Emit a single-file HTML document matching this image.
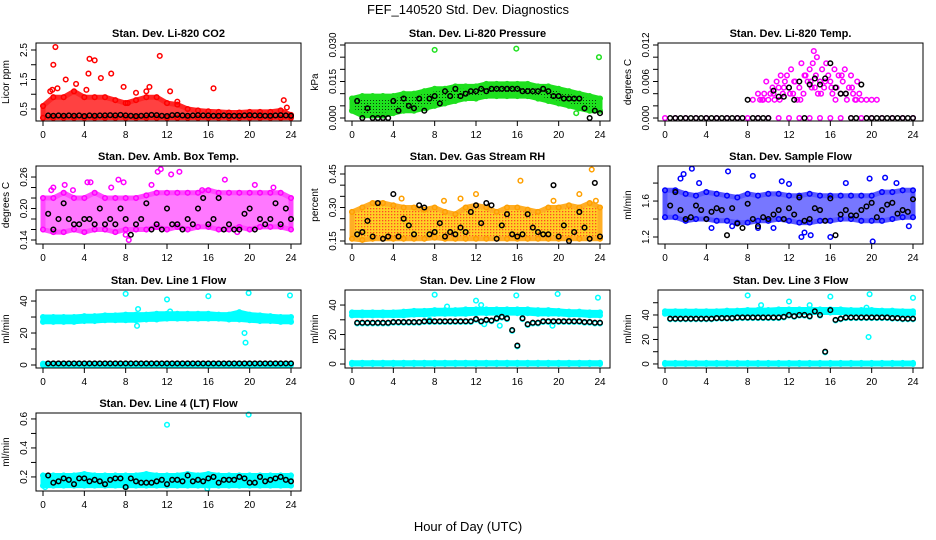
<!DOCTYPE html>
<html><head><meta charset="utf-8"><style>
body{margin:0;background:#fff;width:936px;height:540px;overflow:hidden}
svg{display:block}
text{font-family:"Liberation Sans",sans-serif;fill:#000}
</style></head><body>
<svg id="c" width="936" height="540" xmlns="http://www.w3.org/2000/svg">
<defs>
<pattern id="pg" width="3" height="3" patternUnits="userSpaceOnUse"><rect width="3" height="3" fill="#1ee01e"/><rect x="1" y="1" width="1" height="1" fill="#0a3a0a"/></pattern>
<pattern id="po" width="3" height="3" patternUnits="userSpaceOnUse"><rect width="3" height="3" fill="#ffc800"/><rect x="1" y="1" width="1.3" height="1.3" fill="#ff2a00"/></pattern>
</defs>
<text x="468" y="14" text-anchor="middle" font-size="13">FEF_140520  Std. Dev. Diagnostics</text>
<text x="468" y="531" text-anchor="middle" font-size="13">Hour of Day (UTC)</text>
</svg>
<script>
const hours25=[0,1,2,3,4,5,6,7,8,9,10,11,12,13,14,15,16,17,18,19,20,21,22,23,24];
const blackHours=[0.5,1,1.5,2,2.5,3,3.5,4,4.5,5,5.5,6,6.5,7,7.5,8,8.5,9,9.5,10,10.5,11,11.5,12,12.5,13,13.5,14,14.5,15,15.5,16,16.5,17,17.5,18,18.5,19,19.5,20,20.5,21,21.5,22,22.5,23,23.5,24];
const xTicks=[0,4,8,12,16,20,24];
// P1 CO2
const co2Lo=[0.2,0.2,0.2,0.2,0.2,0.2,0.2,0.2,0.2,0.2,0.2,0.2,0.2,0.2,0.2,0.2,0.2,0.2,0.2,0.2,0.2,0.2,0.2,0.2,0.2];
const co2Hi=[0.6,0.9,0.9,1.1,0.9,0.9,0.9,0.8,0.7,0.8,0.9,0.9,0.7,0.65,0.5,0.45,0.42,0.4,0.38,0.38,0.4,0.4,0.4,0.45,0.3];
const co2OutH=[1.2,1.0,4.5,5.0,11.3,4.4,6.6,2.2,5.6,3.2,16.5,23.3,0.7,10.3,12.3,7.8,9.0,4.2,0.9,1.4,8.2,10.0,13.0,23.6];
const co2OutV=[2.6,2.0,2.2,2.15,2.3,1.7,1.7,1.5,1.55,1.35,1.2,0.8,1.1,1.25,1.1,1.25,1.05,1.15,1.15,1.2,0.7,1.1,0.75,0.55];
const co2Black=[0.28,0.27,0.28,0.27,0.28,0.27,0.28,0.26,0.28,0.27,0.28,0.28,0.29,0.28,0.3,0.28,0.27,0.26,0.27,0.28,0.3,0.29,0.27,0.26,0.29,0.3,0.28,0.27,0.28,0.29,0.28,0.28,0.27,0.27,0.28,0.27,0.27,0.27,0.28,0.29,0.28,0.28,0.27,0.27,0.28,0.29,0.28,0.27];
// P2 pressure
const prLo=[0.003,0.001,0.001,0.001,0.002,0.003,0.003,0.004,0.005,0.006,0.007,0.008,0.008,0.009,0.009,0.009,0.009,0.009,0.008,0.007,0.006,0.005,0.004,0.003,0.003];
const prHi=[0.008,0.009,0.009,0.009,0.009,0.01,0.01,0.011,0.012,0.012,0.013,0.013,0.013,0.014,0.014,0.014,0.014,0.014,0.013,0.013,0.012,0.011,0.01,0.009,0.008];
const prOutH=[8,15.9,23.9,21.7,7.2];
const prOutV=[0.028,0.0285,0.025,0.002,0.004];
const prBlack=[0.007,0.0,0.004,0.0,0.0,0.0,0.0,0.007,0.003,0.008,0.005,0.004,0.008,0.003,0.008,0.009,0.006,0.011,0.009,0.012,0.009,0.01,0.011,0.011,0.012,0.011,0.012,0.012,0.012,0.012,0.012,0.012,0.011,0.011,0.011,0.011,0.012,0.011,0.009,0.009,0.008,0.008,0.008,0.008,0.004,0.0,0.003,0.002];
// P3 temperature
const tmpH=[9,9.2,9.4,9.6,9.8,10,10.2,10.4,10.6,10.8,11,11.2,11.4,11.6,11.8,12,12.2,12.4,12.6,12.8,13,13.2,13.4,13.6,13.8,14,14.2,14.4,14.6,14.8,15,15.2,15.4,15.6,15.8,16,16.2,16.4,16.6,16.8,17,17.2,17.4,17.6,17.8,18,18.2,18.4,18.6,18.8,19,10.5,11.5,12.5,13.5,14.5,15.5,16.5,17.5,12.1,13.1,14.1,15.1,16.1,17.1,11.1,14.3,14.7,18.1,18.5,19.5,20,20.5,8.5,9.5];
const tmpV=[0.004,0.003,0.003,0.004,0.006,0.003,0.004,0.005,0.003,0.006,0.005,0.007,0.004,0.006,0.007,0.005,0.008,0.004,0.006,0.003,0.005,0.009,0.004,0.007,0.006,0.008,0.005,0.011,0.007,0.004,0.006,0.008,0.005,0.009,0.007,0.006,0.004,0.008,0.005,0.007,0.004,0.006,0.008,0.003,0.005,0.007,0.004,0.003,0.006,0.004,0.003,0.004,0.005,0.006,0.007,0.005,0.006,0.003,0.004,0.004,0.003,0.006,0.004,0.005,0.007,0.003,0.009,0.01,0.005,0.003,0.003,0.003,0.003,0.003,0.003];
const tmpBlack=[0,0,0,0,0,0,0,0,0,0,0,0,0,0,0,0.003,0,0,0,0,0.0045,0.0035,0.0035,0.005,0.003,0.006,0.0,0.0055,0.0065,0.0055,0.0065,0.009,0.005,0.004,0.004,0,0,0.0055,0,0,0,0,0,0,0,0,0,0];
// P4 amb box
const ambLo=[0.16,0.155,0.155,0.16,0.155,0.16,0.16,0.155,0.16,0.16,0.16,0.165,0.16,0.165,0.16,0.165,0.165,0.16,0.16,0.165,0.16,0.165,0.165,0.165,0.16];
const ambHi=[0.22,0.22,0.23,0.22,0.22,0.23,0.22,0.22,0.22,0.22,0.225,0.23,0.23,0.23,0.23,0.23,0.235,0.23,0.23,0.23,0.23,0.23,0.23,0.23,0.22];
const ambOutH=[0.8,2.1,4.3,4.6,7.8,7.3,11.1,11.4,12.4,13.2,17.6,20.5,22.3,8.3,10.5,2.9,6.6,15.4,18.8,8.0,1.0];
const ambOutV=[0.235,0.245,0.25,0.25,0.25,0.255,0.27,0.275,0.265,0.27,0.255,0.245,0.24,0.14,0.245,0.235,0.24,0.235,0.155,0.15,0.24];
const ambBlack=[0.19,0.16,0.18,0.21,0.18,0.17,0.17,0.18,0.18,0.17,0.2,0.17,0.18,0.17,0.2,0.18,0.15,0.17,0.18,0.21,0.16,0.17,0.16,0.2,0.17,0.17,0.16,0.18,0.17,0.2,0.22,0.17,0.18,0.22,0.16,0.17,0.16,0.16,0.19,0.2,0.16,0.18,0.17,0.18,0.21,0.17,0.2,0.18];
// P5 gas stream RH
const rhLo=[0.16,0.155,0.16,0.16,0.16,0.16,0.16,0.16,0.165,0.16,0.16,0.16,0.16,0.16,0.16,0.16,0.16,0.16,0.16,0.16,0.16,0.16,0.16,0.16,0.16];
const rhHi=[0.28,0.3,0.32,0.32,0.31,0.3,0.3,0.29,0.3,0.28,0.27,0.3,0.31,0.3,0.28,0.3,0.3,0.29,0.28,0.3,0.3,0.31,0.3,0.32,0.3];
const rhOutH=[16.3,23.2,23.6,12.0,10.5,22.0,19.5,4.8,8.9];
const rhOutV=[0.42,0.47,0.33,0.36,0.34,0.36,0.33,0.34,0.33];
const rhBlack=[0.18,0.19,0.24,0.17,0.32,0.16,0.17,0.36,0.17,0.25,0.22,0.18,0.31,0.3,0.18,0.19,0.23,0.17,0.19,0.18,0.21,0.19,0.28,0.31,0.23,0.32,0.31,0.16,0.22,0.27,0.18,0.17,0.18,0.27,0.21,0.19,0.18,0.18,0.4,0.17,0.22,0.15,0.19,0.28,0.21,0.16,0.41,0.17];
// P6 sample flow
const sfLo=[1.42,1.42,1.38,1.4,1.4,1.38,1.38,1.36,1.36,1.38,1.38,1.4,1.38,1.36,1.36,1.38,1.38,1.4,1.4,1.38,1.38,1.38,1.4,1.42,1.42];
const sfHi=[1.72,1.72,1.68,1.66,1.7,1.68,1.66,1.64,1.68,1.66,1.68,1.68,1.66,1.66,1.68,1.66,1.66,1.66,1.66,1.66,1.66,1.7,1.7,1.72,1.72];
const sfOutH=[1.8,2.6,6.1,8.5,11.3,12.0,13.5,17.5,19.8,21.3,22.4,3.3,13.2,14.1,16.0,20.1,23.6,6.5,10.5,1.5,9.0,4.5];
const sfOutV=[1.9,1.96,1.93,1.88,1.82,1.79,1.25,1.8,1.85,1.86,1.8,1.8,1.2,1.22,1.2,1.15,1.32,1.32,1.3,1.85,1.3,1.3];
const sfBlack=[1.55,1.7,1.5,1.4,1.42,1.55,1.5,1.4,1.48,1.52,1.5,1.22,1.52,1.35,1.3,1.57,1.4,1.32,1.42,1.4,1.45,1.5,1.4,1.52,1.45,1.64,1.38,1.4,1.52,1.5,1.38,1.63,1.22,1.45,1.5,1.44,1.44,1.5,1.54,1.58,1.42,1.5,1.56,1.58,1.46,1.5,1.48,1.62];
// P7-P10 line flows
const l1Lo=[27,27,27,27,27.5,27.5,28,28,28,28,28.5,28.5,29,29,29,29,29,29,28.5,28.5,28,27.5,27.5,27,27];
const l1Hi=[30,30,30,30,30.5,30.5,31,31,31.5,31.5,31.5,32,32,32,32,32,32,31.5,31.5,33,31.5,31,30.5,30,30];
const l1OutH=[8,9.2,9.1,12,12.3,16,19.5,19.6,19.9,23.9];
const l1OutV=[44.5,35,24.5,41,33.5,43,20,14,45,43.5];
const l1Black=[1,1,1,1,1,1,1,1,1,1,1,1,1,1,1,1,1,1,1,1,1,1,1,1,1,1,1,1,1,1,1,1,1,1,1,1,1,1,1,1,1,1,1,1,1,1,1,1];
const l2Lo=[33,33,33,33,33,33,33.5,33.5,34,34,34,34,34.5,34.5,34.5,34.5,34.5,34.5,34,34,34,33.5,33.5,33,33];
const l2Hi=[35,35,35,35,35,35.5,36,36,36.5,36.5,36.5,37,37,37,37,37,37,37,36.5,36.5,36,35.5,35.5,35,35];
const l2OutH=[8,9.2,12,12.5,15.9,19.9,23.8,14.3,19.4,7.5,12.8];
const l2OutV=[47,39,43,40,46.5,47.5,45,26,26,30,27];
const l2Black=[28,28,28,28,28,28,28,28.5,28.5,28.5,28.5,28.5,28.5,29,29,29,29,29,29,29,29,29,29,30.5,29,30,29.5,31,32,31,23,12.5,31,27,28,28,29,29,29,29,29,29,29,29,28.5,28.5,28,28];
const l3Lo=[41,41,41,41,41,41,41,41.5,41.5,41.5,42,42,42,42,42,42,42,42,42,42,42,41.5,41.5,41,41];
const l3Hi=[43,43,43,43,43,43,43.5,43.5,44,44,44,44.5,44.5,44.5,44.5,44.5,44.5,44.5,44,44,44,43.5,43.5,43,43];
const l3OutH=[8,9.3,12,14,16,19.5,19.8,24,19.7];
const l3OutV=[56,48,51,48,55,46,57,54,22];
const l3Black=[37,37,37,37,37,37,37,37,37,37.5,37.5,37.5,37.5,38,38,38,38,38,38,38,38,38,38.5,40,39,40,40,39,43,40,10,44,36,37,38,38,38,38,38,38,38,38,38,37.5,37.5,37,37,37];
const l4Lo=[0.14,0.14,0.14,0.14,0.14,0.14,0.14,0.14,0.14,0.14,0.14,0.14,0.14,0.14,0.14,0.14,0.14,0.14,0.14,0.14,0.14,0.14,0.14,0.14,0.14];
const l4Hi=[0.21,0.21,0.21,0.21,0.22,0.21,0.21,0.21,0.21,0.21,0.22,0.21,0.21,0.21,0.22,0.21,0.22,0.21,0.21,0.21,0.21,0.21,0.21,0.21,0.21];
const l4OutH=[12,19.9,0.2,15.9,8];
const l4OutV=[0.56,0.63,0.13,0.12,0.13];
const l4Black=[0.21,0.16,0.17,0.19,0.18,0.15,0.19,0.19,0.17,0.18,0.17,0.15,0.18,0.19,0.19,0.13,0.19,0.17,0.16,0.16,0.16,0.17,0.18,0.15,0.18,0.18,0.17,0.21,0.17,0.18,0.17,0.19,0.2,0.16,0.18,0.18,0.18,0.2,0.19,0.16,0.16,0.2,0.17,0.18,0.19,0.2,0.18,0.17];

const NS='http://www.w3.org/2000/svg';
const svg=document.getElementById('c');
function mk(tag,attrs,parent){const e=document.createElementNS(NS,tag);for(const k in attrs)e.setAttribute(k,attrs[k]);(parent||svg).appendChild(e);return e;}
const colsL=[36,345,658], rowsT=[43,166,290,413], W=265, H=78;

function panel(o){
  const L=colsL[o.col], T=rowsT[o.row];
  const g=mk('g',{});
  
  
  const xs=h=>L+7+h/24*248;
  const ys=v=>T+H-(v-o.dom[0])/(o.dom[1]-o.dom[0])*H;
  const cg=mk('g',{},g);
  (o.bands||[]).forEach(b=>{
    let d='';
    hours25.forEach((h,i)=>{d+=(i?'L':'M')+xs(h).toFixed(1)+' '+ys(b.hi[i]).toFixed(1);});
    for(let i=hours25.length-1;i>=0;i--)d+='L'+xs(hours25[i]).toFixed(1)+' '+ys(b.lo[i]).toFixed(1);
    const p=mk('path',{d:d+'Z',fill:b.fill,stroke:b.stroke,'stroke-width':5,'stroke-linejoin':'round',opacity:b.op||1},cg);
    
    
    hours25.forEach((h,i)=>{
      [b.lo[i],b.hi[i]].forEach(v=>{
        const c=mk('circle',{cx:xs(h),cy:ys(v),r:2.3,fill:'none',stroke:b.stroke,'stroke-width':1.5},cg);
        
        
      });
    });
  });
  (o.pts||[]).forEach(s=>{
    s.h.forEach((h,i)=>{
      const c=mk('circle',{cx:xs(h),cy:ys(s.v[i]),r:2.3,fill:'none',stroke:s.c,'stroke-width':1.5},cg);
      
      
    });
  });
  const r=mk('rect',{x:L,y:T,width:W,height:H,fill:'none',stroke:'#000','stroke-width':1},g);
  
  
  const t=mk('text',{x:L+W/2,y:T-6,'text-anchor':'middle','font-size':11,'font-weight':'bold'},g);
  t.textContent=o.title;
  
  
  mk('line',{x1:xs(0),x2:xs(24),y1:T+H,y2:T+H,stroke:'#000'},g);
  xTicks.forEach(h=>{
    mk('line',{x1:xs(h),x2:xs(h),y1:T+H,y2:T+H+5,stroke:'#000'},g);
    const tx=mk('text',{x:xs(h),y:T+H+17,'text-anchor':'middle','font-size':10},g);
    tx.textContent=h;
    
    
  });
  mk('line',{x1:L,x2:L,y1:ys(o.ticks[0]),y2:ys(o.ticks[o.ticks.length-1]),stroke:'#000'},g);
  o.ticks.forEach((v,i)=>{
    mk('line',{x1:L-5,x2:L,y1:ys(v),y2:ys(v),stroke:'#000'},g);
    if(o.labels[i]!==''){
      const yy=ys(v);
      const tx=mk('text',{x:L-9,y:yy,'text-anchor':'middle','font-size':10,transform:`rotate(-90 ${L-9} ${yy})`},g);
      tx.textContent=o.labels[i];
      
      
    }
  });
  const yl=mk('text',{x:L-27,y:T+H/2,'text-anchor':'middle','font-size':10,transform:`rotate(-90 ${L-27} ${T+H/2})`},g);
  yl.textContent=o.ylab;
  
  
}
const K='#000';
panel({name:'panel-co2',col:0,row:0,title:'Stan. Dev. Li-820 CO2',ylab:'Licor ppm',dom:[0.093,2.737],ticks:[0.5,1,1.5,2,2.5],labels:['0.5','','1.5','','2.5'],
  bands:[{lo:co2Lo,hi:co2Hi,fill:'#ff2020',stroke:'#ff0000',op:0.85}],
  pts:[{h:co2OutH,v:co2OutV,c:'#ff0000',n:'outlier-point'},{h:blackHours,v:co2Black,c:K,n:'daily-point'}]});
panel({name:'panel-pressure',col:1,row:0,title:'Stan. Dev. Li-820 Pressure',ylab:'kPa',dom:[-0.00123,0.03082],ticks:[0,0.005,0.01,0.015,0.02,0.025,0.03],labels:['0.000','','','0.015','','','0.030'],
  bands:[{lo:prLo,hi:prHi,fill:'url(#pg)',stroke:'#1ee01e'}],
  pts:[{h:prOutH,v:prOutV,c:'#1ee01e',n:'outlier-point'},{h:blackHours,v:prBlack,c:K,n:'daily-point'}]});
panel({name:'panel-temp',col:2,row:0,title:'Stan. Dev. Li-820 Temp.',ylab:'degrees C',dom:[-0.00049,0.01233],ticks:[0,0.002,0.004,0.006,0.008,0.01,0.012],labels:['0.000','','','0.006','','','0.012'],
  bands:[],
  pts:[{h:hours25,v:hours25.map(()=>0),c:'#ff00ff',n:'zero-point'},{h:tmpH,v:tmpV,c:'#ff00ff',n:'data-point'},{h:blackHours,v:tmpBlack,c:K,n:'daily-point'}]});
panel({name:'panel-amb-box',col:0,row:1,title:'Stan. Dev. Amb. Box Temp.',ylab:'degrees C',dom:[0.1324,0.281],ticks:[0.14,0.16,0.18,0.2,0.22,0.24,0.26],labels:['0.14','','','0.20','','','0.26'],
  bands:[{lo:ambLo,hi:ambHi,fill:'#ff40ff',stroke:'#ff00ff',op:0.7}],
  pts:[{h:ambOutH,v:ambOutV,c:'#ff00ff',n:'outlier-point'},{h:blackHours,v:ambBlack,c:K,n:'daily-point'}]});
panel({name:'panel-rh',col:1,row:1,title:'Stan. Dev. Gas Stream RH',ylab:'percent',dom:[0.1366,0.4858],ticks:[0.15,0.2,0.25,0.3,0.35,0.4,0.45],labels:['0.15','','','0.30','','','0.45'],
  bands:[{lo:rhLo,hi:rhHi,fill:'url(#po)',stroke:'#ffa000',op:0.85}],
  pts:[{h:rhOutH,v:rhOutV,c:'#ffa000',n:'outlier-point'},{h:blackHours,v:rhBlack,c:K,n:'daily-point'}]});
panel({name:'panel-sample-flow',col:2,row:1,title:'Stan. Dev. Sample Flow',ylab:'ml/min',dom:[1.122,1.99],ticks:[1.2,1.4,1.6,1.8],labels:['1.2','','1.6',''],
  bands:[{lo:sfLo,hi:sfHi,fill:'#3030ff',stroke:'#0000ff',op:0.65}],
  pts:[{h:sfOutH,v:sfOutV,c:'#0000ff',n:'outlier-point'},{h:blackHours,v:sfBlack,c:K,n:'daily-point'}]});
const zeroLo=hours25.map(()=>0), zeroHi=hours25.map(()=>0.8);
panel({name:'panel-line1',col:0,row:2,title:'Stan. Dev. Line 1 Flow',ylab:'ml/min',dom:[-1.875,46.9],ticks:[0,10,20,30,40],labels:['0','','20','','40'],
  bands:[{lo:l1Lo,hi:l1Hi,fill:'#00ffff',stroke:'#00ffff'},{lo:zeroLo,hi:zeroHi,fill:'#00ffff',stroke:'#00ffff'}],
  pts:[{h:l1OutH,v:l1OutV,c:'#00ffff',n:'outlier-point'},{h:blackHours,v:l1Black,c:K,n:'daily-point'}]});
panel({name:'panel-line2',col:1,row:2,title:'Stan. Dev. Line 2 Flow',ylab:'ml/min',dom:[-2.7,50.2],ticks:[0,10,20,30,40],labels:['0','','20','','40'],
  bands:[{lo:l2Lo,hi:l2Hi,fill:'#00ffff',stroke:'#00ffff'},{lo:zeroLo,hi:zeroHi,fill:'#00ffff',stroke:'#00ffff'}],
  pts:[{h:l2OutH,v:l2OutV,c:'#00ffff',n:'outlier-point'},{h:blackHours,v:l2Black.map(v=>v-0.5),c:'#00ffff',n:'data-point'},{h:blackHours,v:l2Black,c:K,n:'daily-point'}]});
panel({name:'panel-line3',col:2,row:2,title:'Stan. Dev. Line 3 Flow',ylab:'ml/min',dom:[-3.3,60.4],ticks:[0,10,20,30,40,50],labels:['0','','20','','40',''],
  bands:[{lo:l3Lo,hi:l3Hi,fill:'#00ffff',stroke:'#00ffff'},{lo:zeroLo,hi:zeroHi,fill:'#00ffff',stroke:'#00ffff'}],
  pts:[{h:l3OutH,v:l3OutV,c:'#00ffff',n:'outlier-point'},{h:blackHours,v:l3Black.map(v=>v-0.5),c:'#00ffff',n:'data-point'},{h:blackHours,v:l3Black,c:K,n:'daily-point'}]});
panel({name:'panel-line4',col:0,row:3,title:'Stan. Dev. Line 4 (LT) Flow',ylab:'ml/min',dom:[0.103,0.641],ticks:[0.2,0.3,0.4,0.5,0.6],labels:['0.2','','0.4','','0.6'],
  bands:[{lo:l4Lo,hi:l4Hi,fill:'#00ffff',stroke:'#00ffff'}],
  pts:[{h:l4OutH,v:l4OutV,c:'#00ffff',n:'outlier-point'},{h:blackHours,v:l4Black,c:K,n:'daily-point'}]});
</script>
</body></html>
